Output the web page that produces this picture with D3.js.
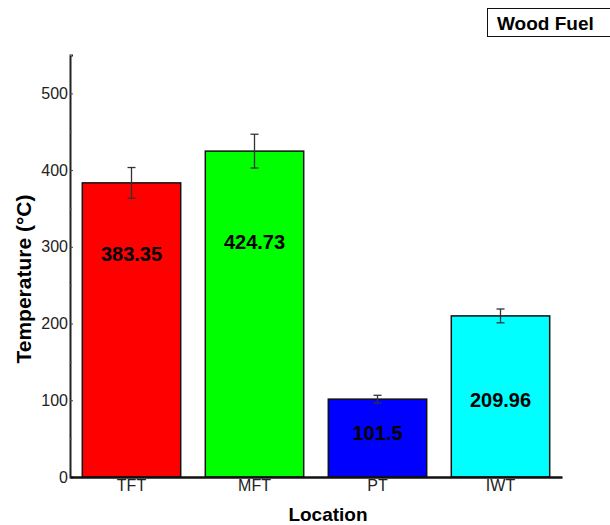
<!DOCTYPE html>
<html>
<head>
<meta charset="utf-8">
<script src="https://cdn.jsdelivr.net/npm/d3@7"></script>
<style>
  body { margin: 0; background: #fff; }
  text { font-family: "Liberation Sans", Arial, sans-serif; }
</style>
</head>
<body>
<svg id="chart" width="610" height="525"></svg>
<script>
// chart data
var locations = ["TFT", "MFT", "PT", "IWT"];
var temps = [383.35, 424.73, 101.5, 209.96];
var errors = [20, 22, 5, 9];
var valueLabels = ["383.35", "424.73", "101.5", "209.96"];
var labelAt = [291, 307, 57, 100];
var barColors = ["#ff0000", "#00ff00", "#0000ff", "#00ffff"];
var yTicks = [0, 100, 200, 300, 400, 500];
var yMinor = [50, 150, 250, 350, 450, 550];

var svg = d3.select("#chart");

var x = d3.scaleBand()
    .domain(locations)
    .range([70, 562])
    .paddingInner(0.2)
    .paddingOuter(0.1);

var y = d3.scaleLinear()
    .domain([0, 550])
    .range([477, 55]);

// bars
svg.append("g").selectAll("rect")
    .data(locations)
    .enter().append("rect")
    .attr("x", d => x(d))
    .attr("y", (d, i) => y(temps[i]))
    .attr("width", x.bandwidth())
    .attr("height", (d, i) => y(0) - y(temps[i]))
    .attr("fill", (d, i) => barColors[i])
    .attr("stroke", "#111")
    .attr("stroke-width", 1.5);

// error bars
var eb = svg.append("g").attr("stroke", "#333").attr("stroke-width", 1.3);
locations.forEach(function (d, i) {
    var cx = x(d) + x.bandwidth() / 2;
    eb.append("line").attr("x1", cx).attr("x2", cx)
        .attr("y1", y(temps[i] + errors[i])).attr("y2", y(temps[i] - errors[i]));
    [temps[i] + errors[i], temps[i] - errors[i]].forEach(function (v) {
        eb.append("line").attr("x1", cx - 4).attr("x2", cx + 4)
            .attr("y1", y(v)).attr("y2", y(v));
    });
});

// value labels
svg.append("g").selectAll("text")
    .data(locations)
    .enter().append("text")
    .attr("x", d => x(d) + x.bandwidth() / 2)
    .attr("y", (d, i) => y(labelAt[i]))
    .attr("dy", "0.36em")
    .attr("text-anchor", "middle")
    .attr("font-size", 20)
    .attr("font-weight", "bold")
    .attr("fill", "#000")
    .text((d, i) => valueLabels[i]);

// y axis (ticks point inward, like the original)
var yAxis = svg.append("g")
    .attr("transform", "translate(70,0)")
    .call(d3.axisLeft(y).tickValues(yTicks).tickSize(-3).tickPadding(2));
yAxis.selectAll("text").attr("font-size", 16).attr("fill", "#222").style("font-family", "Liberation Sans, Arial, sans-serif");
yAxis.select(".domain").attr("stroke", "#222").attr("stroke-width", 2);
yAxis.selectAll(".tick line").attr("stroke", "#444");

svg.append("g").attr("transform", "translate(70,0)")
    .call(d3.axisLeft(y).tickValues(yMinor).tickSize(-2).tickFormat(""))
    .call(g => g.select(".domain").remove())
    .selectAll(".tick line").attr("stroke", "#666");

// x axis
var xAxis = svg.append("g")
    .attr("transform", "translate(0," + y(0) + ")")
    .call(d3.axisBottom(x).tickSize(0).tickPadding(3).tickSizeOuter(0));
xAxis.select(".domain").attr("stroke", "#111").attr("stroke-width", 2.5);
xAxis.selectAll("text").attr("font-size", 16).attr("fill", "#222").style("font-family", "Liberation Sans, Arial, sans-serif");

// axis titles
svg.append("text")
    .attr("transform", "translate(31,279) rotate(-90)")
    .attr("text-anchor", "middle")
    .attr("font-size", 21)
    .attr("font-weight", "bold")
    .text("Temperature (°C)");

svg.append("text")
    .attr("x", 328)
    .attr("y", 521)
    .attr("text-anchor", "middle")
    .attr("font-size", 19)
    .attr("font-weight", "bold")
    .text("Location");

// legend box
svg.append("rect")
    .attr("x", 487.5).attr("y", 8.5)
    .attr("width", 130).attr("height", 28)
    .attr("fill", "#fff").attr("stroke", "#111").attr("stroke-width", 1);
svg.append("text")
    .attr("x", 497).attr("y", 30)
    .attr("font-size", 19)
    .attr("font-weight", "bold")
    .text("Wood Fuel");
</script>
</body>
</html>
